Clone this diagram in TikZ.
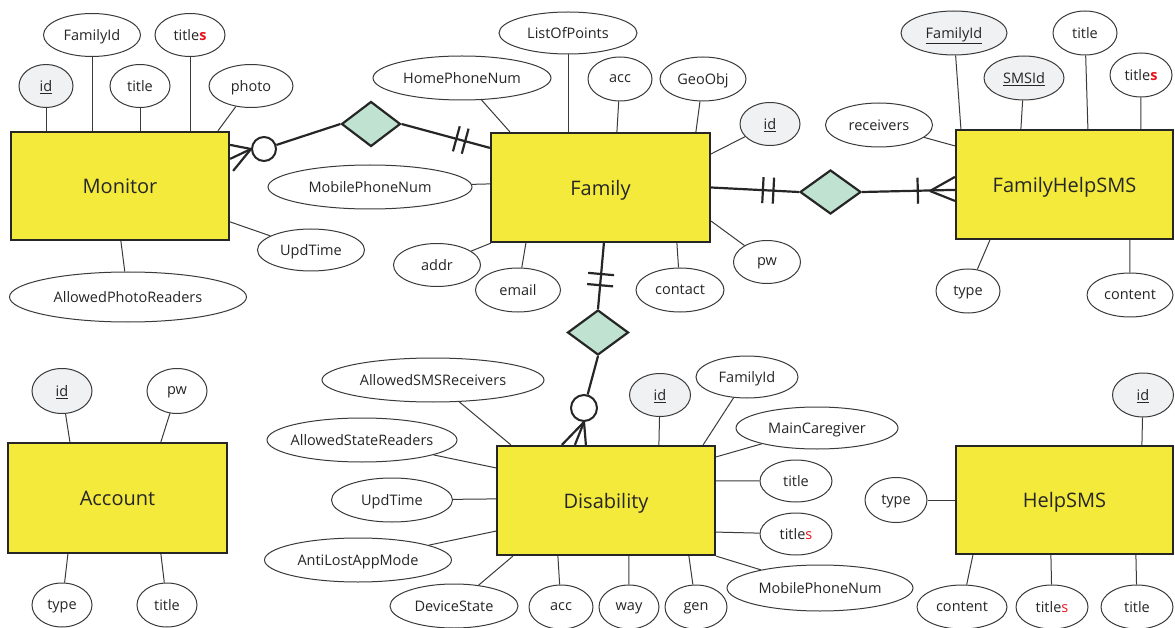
\documentclass[tikz,border=0pt]{standalone}
\usepackage{fontspec}
\setmainfont{Open Sans}
\usetikzlibrary{shapes.geometric}
\definecolor{ink}{HTML}{262626}
\definecolor{edge}{HTML}{3A3A3A}
\definecolor{entfill}{HTML}{F3EA3B}
\definecolor{relfill}{HTML}{BFE3D0}
\definecolor{keyfill}{HTML}{F0F1F3}
\definecolor{plural}{HTML}{E8141C}
% attribute text is centred without widening its ellipse
\newcommand\atxt[1]{\makebox[0pt]{#1}}
\newcommand\pl{{\color{plural}s}}
\newcommand\plb{{\color{plural}\bfseries s}}
\tikzset{
  entity/.style={rectangle, draw=ink, line width=2.2pt, fill=entfill,
    minimum width=218, minimum height=108, inner sep=0pt, text=ink,
    text depth=0pt, font=\fontsize{20}{24}\selectfont},
  attr/.style={ellipse, draw=edge, line width=1pt, fill=white, inner sep=0pt,
    text=ink, text depth=0pt, font=\fontsize{14.5}{17}\selectfont},
  keyattr/.style={attr, fill=keyfill},
  rel/.style={diamond, draw=ink, line width=2.2pt, fill=relfill, inner sep=0pt,
    minimum width=59, minimum height=45},
  optc/.style={circle, draw=ink, line width=2pt, fill=white, inner sep=0pt,
    minimum size=24},
  link/.style={draw=edge, line width=1pt},
  relline/.style={draw=ink, line width=2.2pt},
  bar/.style={sloped, inner sep=0pt, text=ink}
}
\newcommand\barmark{\rule{2.2pt}{26pt}}
\begin{document}
\begin{tikzpicture}[x=1pt,y=-1pt]
\useasboundingbox (0,0) rectangle (1175,628);

% ---------------- Monitor ----------------
\node[entity] (mon) at (120,186) {Monitor};
\node[keyattr, minimum width=54, minimum height=43] (mon-id) at (46,86) {\atxt{\underline{id}}};
\node[attr, minimum width=97, minimum height=43] (mon-fid) at (92,35) {\atxt{FamilyId}};
\node[attr, minimum width=60, minimum height=43] (mon-title) at (140,86) {\atxt{title}};
\node[attr, minimum width=70, minimum height=43] (mon-titles) at (190,35) {\atxt{title\plb}};
\node[attr, minimum width=84, minimum height=43] (mon-photo) at (251,86) {\atxt{photo}};
\node[attr, minimum width=107, minimum height=42] (mon-upd) at (311,250) {\atxt{UpdTime}};
\node[attr, minimum width=237, minimum height=50] (mon-apr) at (128,297) {\atxt{AllowedPhotoReaders}};

\draw[link] (mon-id.south) -- (mon-id.south |- mon.north);
\draw[link] (mon-fid) -- (mon-fid |- mon.north);
\draw[link] (mon-title) -- (mon-title |- mon.north);
\draw[link] (mon-titles) -- (mon-titles |- mon.north);
\draw[link] (mon-photo) -- ([xshift=208]mon.north west);
\draw[link] (mon-upd) -- ([yshift=-91]mon.north east);
\draw[link] (mon-apr) -- ([xshift=111]mon.south west);

% ---------------- Family ----------------
\node[entity] (fam) at (600.5,187.5) [minimum width=219, minimum height=109] {Family};
\node[attr, minimum width=138, minimum height=42] (fam-lop) at (568,33) {\atxt{ListOfPoints}};
\node[attr, minimum width=178, minimum height=44] (fam-hpn) at (462,78) {\atxt{HomePhoneNum}};
\node[attr, minimum width=64, minimum height=44] (fam-acc) at (620,79) {\atxt{acc}};
\node[attr, minimum width=86, minimum height=44] (fam-geo) at (703,79) {\atxt{GeoObj}};
\node[keyattr, minimum width=60, minimum height=43] (fam-id) at (770,124) {\atxt{\underline{id}}};
\node[attr, minimum width=204, minimum height=44] (fam-mpn) at (370,187) {\atxt{MobilePhoneNum}};
\node[attr, minimum width=87, minimum height=43] (fam-addr) at (437,265) {\atxt{addr}};
\node[attr, minimum width=85, minimum height=44] (fam-email) at (518,290) {\atxt{email}};
\node[attr, minimum width=88, minimum height=44] (fam-contact) at (680,290) {\atxt{contact}};
\node[attr, minimum width=67, minimum height=43] (fam-pw) at (767,262) {\atxt{pw}};

\draw[link] (fam-lop) -- (fam-lop |- fam.north);
\draw[link] (fam-hpn) -- ([xshift=20]fam.north west);
\draw[link] (fam-acc) -- ([xshift=127]fam.north west);
\draw[link] (fam-geo) -- ([xshift=206]fam.north west);
\draw[link] (fam-id) -- ([yshift=-22]fam.north east);
\draw[link] (fam-mpn) -- ([yshift=-52]fam.north west);
\draw[link] (fam-addr) -- ([xshift=1]fam.south west);
\draw[link] (fam-email) -- ([xshift=36]fam.south west);
\draw[link] (fam-contact) -- ([xshift=187]fam.south west);
\draw[link] (fam-pw) -- ([yshift=22]fam.south east);

% ---------------- FamilyHelpSMS ----------------
\node[entity, minimum width=217, minimum height=109] (fhs) at (1064.5,184.5) {FamilyHelpSMS};
\node[keyattr, minimum width=106, minimum height=44] (fhs-fid) at (954,33) {\atxt{\underline{FamilyId}}};
\node[keyattr, minimum width=80, minimum height=44] (fhs-sms) at (1024,78) {\atxt{\underline{SMSId}}};
\node[attr, minimum width=64, minimum height=44] (fhs-title) at (1085,33) {\atxt{title}};
\node[attr, minimum width=62, minimum height=44] (fhs-titles) at (1141,75) {\atxt{title\plb}};
\node[attr, minimum width=107, minimum height=44] (fhs-rec) at (879,125) {\atxt{receivers}};
\node[attr, minimum width=64, minimum height=44] (fhs-type) at (968,291) {\atxt{type}};
\node[attr, minimum width=86, minimum height=44] (fhs-content) at (1130,295) {\atxt{content}};

\draw[link] (fhs-fid) -- ([xshift=6]fhs.north west);
\draw[link] (fhs-sms) -- ([xshift=66]fhs.north west);
\draw[link] (fhs-title) -- ([xshift=133]fhs.north west);
\draw[link] (fhs-titles) -- ([xshift=186]fhs.north west);
\draw[link] (fhs-rec) -- ([yshift=-17]fhs.north west);
\draw[link] (fhs-type) -- ([xshift=35]fhs.south west);
\draw[link] (fhs-content) -- ([xshift=175]fhs.south west);

% ---------------- Disability ----------------
\node[entity, minimum width=218, minimum height=109] (dis) at (606,500.5) {Disability};
\node[attr, minimum width=222, minimum height=44] (dis-asr) at (433,380) {\atxt{AllowedSMSReceivers}};
\node[attr, minimum width=190, minimum height=44] (dis-astr) at (362,440) {\atxt{AllowedStateReaders}};
\node[attr, minimum width=121, minimum height=44] (dis-upd) at (392,500) {\atxt{UpdTime}};
\node[attr, minimum width=187, minimum height=44] (dis-alm) at (358,560) {\atxt{AntiLostAppMode}};
\node[attr, minimum width=128, minimum height=44] (dis-dev) at (454,606) {\atxt{DeviceState}};
\node[attr, minimum width=64, minimum height=44] (dis-acc) at (561,607) {\atxt{acc}};
\node[attr, minimum width=60, minimum height=44] (dis-way) at (629,607) {\atxt{way}};
\node[attr, minimum width=62, minimum height=44] (dis-gen) at (696,607) {\atxt{gen}};
\node[attr, minimum width=186, minimum height=46] (dis-mpn) at (820,588) {\atxt{MobilePhoneNum}};
\node[attr, minimum width=72, minimum height=42] (dis-titles) at (796,534) {\atxt{title\pl}};
\node[attr, minimum width=72, minimum height=42] (dis-title) at (796,481) {\atxt{title}};
\node[attr, minimum width=162, minimum height=42] (dis-mc) at (817,428) {\atxt{MainCaregiver}};
\node[attr, minimum width=102, minimum height=42] (dis-fid) at (747,377) {\atxt{FamilyId}};
\node[keyattr, minimum width=61, minimum height=43] (dis-id) at (660,395) {\atxt{\underline{id}}};

\draw[link] (dis-asr) -- ([xshift=15]dis.north west);
\draw[link] (dis-astr) -- ([yshift=-23]dis.north west);
\draw[link] (dis-upd) -- ([yshift=-54]dis.north west);
\draw[link] (dis-alm) -- ([yshift=25]dis.south west);
\draw[link] (dis-dev) -- ([xshift=17]dis.south west);
\draw[link] (dis-acc) -- ([xshift=62]dis.south west);
\draw[link] (dis-way) -- ([xshift=133]dis.south west);
\draw[link] (dis-gen) -- ([xshift=193]dis.south west);
\draw[link] (dis-mpn) -- (dis.south east);
\draw[link] (dis-titles) -- ([yshift=24]dis.south east);
\draw[link] (dis-title) -- ([yshift=-36]dis.north east);
\draw[link] (dis-mc) -- ([yshift=-12]dis.north east);
\draw[link] (dis-fid) -- ([xshift=-13]dis.north east);
\draw[link] (dis-id) -- ([xshift=163]dis.north west);

% ---------------- Account ----------------
\node[entity, minimum width=219, minimum height=110] (acc) at (117.5,498) {Account};
\node[keyattr, minimum width=60, minimum height=45] (acc-id) at (62,391) {\atxt{\underline{id}}};
\node[attr, minimum width=60, minimum height=45] (acc-pw) at (177,391) {\atxt{pw}};
\node[attr, minimum width=60, minimum height=44] (acc-type) at (62,605) {\atxt{type}};
\node[attr, minimum width=60, minimum height=44] (acc-title) at (167,605) {\atxt{title}};

\draw[link] (acc-id) -- ([xshift=63]acc.north west);
\draw[link] (acc-pw) -- ([xshift=154]acc.north west);
\draw[link] (acc-type) -- ([xshift=61]acc.south west);
\draw[link] (acc-title) -- ([xshift=154]acc.south west);

% ---------------- HelpSMS ----------------
\node[entity, minimum width=217, minimum height=108] (hs) at (1064.5,500) {HelpSMS};
\node[keyattr, minimum width=61, minimum height=44] (hs-id) at (1143,395) {\atxt{\underline{id}}};
\node[attr, minimum width=62, minimum height=45] (hs-type) at (896,500) {\atxt{type}};
\node[attr, minimum width=90, minimum height=44] (hs-content) at (962,607) {\atxt{content}};
\node[attr, minimum width=72, minimum height=44] (hs-titles) at (1052,607) {\atxt{title\pl}};
\node[attr, minimum width=72, minimum height=44] (hs-title) at (1137,607) {\atxt{title}};

\draw[link] (hs-id) -- ([xshift=187]hs.north west);
\draw[link] (hs-type) -- (hs.west);
\draw[link] (hs-content) -- ([xshift=18]hs.south west);
\draw[link] (hs-titles) -- ([xshift=96]hs.south west);
\draw[link] (hs-title) -- ([xshift=181]hs.south west);

% ---------------- Relationships ----------------
% Monitor (zero or many) -- Family (exactly one)
\node[rel] (r1) at (371,124) {};
\node[optc] (c1) at (264,149) {};
\draw[relline] (c1) -- (r1.west);
\draw[relline] (r1.east) -- ([yshift=-16]fam.north west)
  node[bar, pos=0.62] {\barmark} node[bar, pos=0.72] {\barmark};
\draw[relline] (c1.west) -- ([yshift=-14]mon.north east);
\draw[relline] (c1.west) -- ([yshift=-28]mon.north east);
\draw[relline] (c1.west) -- ([xshift=3,yshift=-40]mon.north east);

% Family (exactly one) -- FamilyHelpSMS (one or many)
\node[rel, minimum width=61, minimum height=44] (r2) at (830.5,192) {};
\coordinate (cf2) at (930,191);
\draw[relline] (fam.east) -- (r2.west)
  node[bar, pos=0.59] {\barmark} node[bar, pos=0.71] {\barmark};
\draw[relline] (r2.east) -- ([yshift=-61]fhs.north west)
  node[bar, pos=0.6] {\barmark};
\draw[relline] (cf2) -- ([yshift=-48]fhs.north west);
\draw[relline] (cf2) -- ([yshift=-72]fhs.north west);

% Family (exactly one) -- Disability (zero or many)
\node[rel, minimum width=61, minimum height=45] (r3) at (598,332.5) {};
\node[optc, minimum size=26] (c3) at (584,408) {};
\draw[relline] ([xshift=114]fam.south west) -- (r3.north)
  node[bar, pos=0.47] {\barmark} node[bar, pos=0.64] {\barmark};
\draw[relline] (r3.south) -- (c3);
\draw[relline] (c3.south) -- ([xshift=66]dis.north west);
\draw[relline] (c3.south) -- ([xshift=79]dis.north west);
\draw[relline] (c3.south) -- ([xshift=90]dis.north west);
\end{tikzpicture}
\end{document}
